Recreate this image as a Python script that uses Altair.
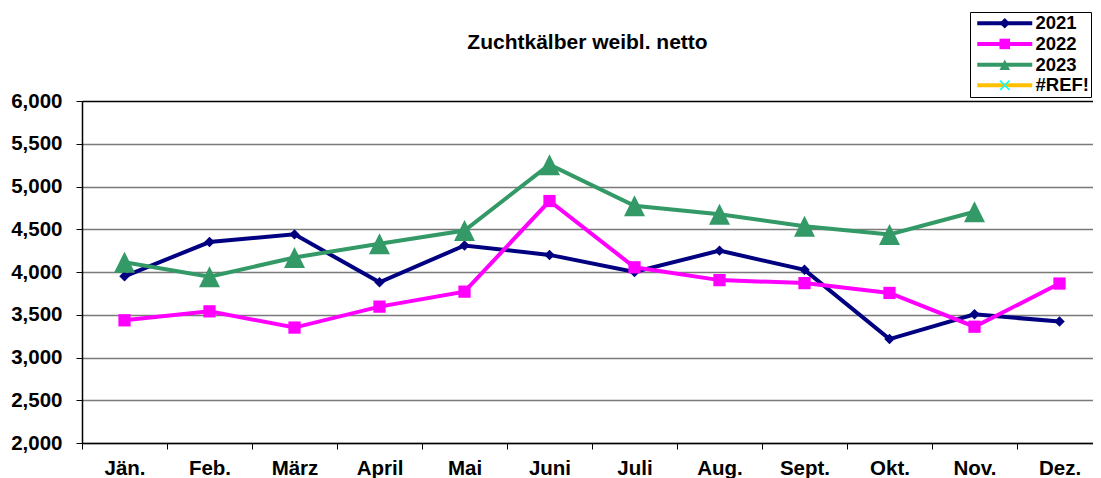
import altair as alt
import pandas as pd

months = ["Jän.", "Feb.", "März", "April", "Mai", "Juni", "Juli", "Aug.", "Sept.", "Okt.", "Nov.", "Dez."]
series_names = ["2021", "2022", "2023", "#REF!"]

v2021 = [3950, 4350, 4440, 3880, 4310, 4200, 4000, 4250, 4025, 3215, 3505, 3420]
v2022 = [3435, 3540, 3350, 3595, 3770, 4830, 4055, 3905, 3870, 3755, 3360, 3865]
v2023 = [4115, 3945, 4170, 4330, 4485, 5255, 4775, 4675, 4535, 4440, 4705]
vref = []

y_ticks = [2000, 2500, 3000, 3500, 4000, 4500, 5000, 5500, 6000]

line_colors = ["#000080", "#FF00FF", "#339966", "#FFC000"]
marker_colors = ["#000080", "#FF00FF", "#339966", "#00FFFF"]

TRI = "M0,-1L1,1L-1,1Z"
XSHAPE = "M-1,-0.8L-0.8,-1L0,-0.2L0.8,-1L1,-0.8L0.2,0L1,0.8L0.8,1L0,0.2L-0.8,1L-1,0.8L-0.2,0Z"
marker_shapes = ["diamond", "square", TRI, XSHAPE]
marker_sizes = [110, 150, 441, 120]

rows = []
for name, vals in zip(series_names, [v2021, v2022, v2023, vref]):
    for m, v in zip(months, vals):
        rows.append({"Monat": m, "Jahr": name, "Wert": v})
df = pd.DataFrame(rows)

FONT = "Liberation Sans"

x_enc = alt.X(
    "Monat:N",
    sort=months,
    scale=alt.Scale(type="band", domain=months, range=[0, 1020], paddingInner=0, paddingOuter=0),
    bandPosition=0.5,
    axis=alt.Axis(
        title=None,
        labelAngle=0,
        tickBand="extent",
        ticks=True,
        tickSize=6,
        tickColor="black",
        domainColor="black",
        domainWidth=1.5,
        labelFontSize=20.5,
        labelFontWeight="bold",
        labelFont=FONT,
        labelColor="black",
        labelPadding=9,
        grid=False,
    ),
)
y_enc = alt.Y(
    "Wert:Q",
    scale=alt.Scale(domain=[2000, 6000], nice=False, zero=False),
    axis=alt.Axis(
        title=None,
        values=y_ticks,
        format=",d",
        tickSize=6,
        tickColor="black",
        domainColor="black",
        domainWidth=1.5,
        labelFontSize=20.5,
        labelFontWeight="bold",
        labelFont=FONT,
        labelColor="black",
        labelPadding=14,
        grid=True,
        gridColor={"condition": {"test": "datum.value === 6000", "value": "black"}, "value": "#7a7a7a"},
        gridWidth=1.5,
    ),
)

LEG_X = 888
LEG_Y = -89

base = alt.Chart(df)

lines = base.mark_line(strokeWidth=4).encode(
    x=x_enc,
    y=y_enc,
    color=alt.Color(
        "Jahr:N",
        scale=alt.Scale(domain=series_names, range=line_colors),
        legend=alt.Legend(
            title=None,
            orient="none",
            legendX=LEG_X,
            legendY=LEG_Y,
            symbolType="M-5,0L5,0",
            symbolSize=121,
            symbolStrokeWidth=4,
            symbolOffset=23.5,
            labelOffset=21.5,
            labelFontSize=18.5,
            labelFontWeight="bold",
            labelFont=FONT,
            labelColor="black",
            labelExpr="datum.label + '      '",
            padding=2,
            rowPadding=1.7,
            strokeColor="black",
            fillColor="white",
        ),
    ),
    detail="Jahr:N",
)

marker_legend = alt.Legend(
    title=None,
    orient="none",
    legendX=LEG_X,
    legendY=LEG_Y,
    symbolSize=110,
    symbolStrokeWidth=0,
    symbolOffset=23.5,
    symbolOpacity=1,
    labelOffset=21.5,
    labelFontSize=18.5,
    labelFontWeight="bold",
    labelFont=FONT,
    labelOpacity=0,
    padding=2,
    rowPadding=1.7,
)

point_layers = []
for name, msize in zip(series_names[:3], marker_sizes[:3]):
    p = (
        base.transform_filter(alt.datum.Jahr == name)
        .transform_calculate(Jahr_m="datum.Jahr")
        .mark_point(filled=True, opacity=1, strokeWidth=0, size=msize)
        .encode(
            x=x_enc,
            y=y_enc,
            fill=alt.Fill("Jahr_m:N", scale=alt.Scale(domain=series_names, range=marker_colors), legend=marker_legend),
            shape=alt.Shape("Jahr_m:N", scale=alt.Scale(domain=series_names, range=marker_shapes), legend=marker_legend),
        )
    )
    point_layers.append(p)

points = alt.layer(*point_layers)

chart = (
    alt.layer(lines, points)
    .resolve_scale(color="independent", fill="independent", shape="independent")
    .properties(
        width=1011,
        height=342,
        autosize=alt.AutoSizeParams(type="none"),
        padding={"left": 74, "top": 93, "right": 0, "bottom": 35},
        title=alt.Title(
            "Zuchtkälber weibl. netto",
            fontSize=21,
            fontWeight="bold",
            font=FONT,
            color="black",
            anchor="middle",
            frame="group",
            baseline="alphabetic",
            offset=-58,
        ),
    )
    .configure_view(stroke=None)
    .configure(background="white")
)

chart.save("out.html", embed_options={"renderer": "svg", "actions": False})
